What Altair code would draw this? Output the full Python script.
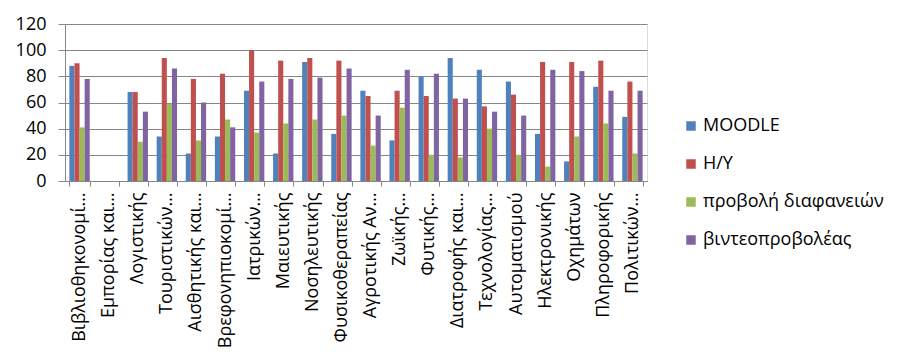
import altair as alt
import pandas as pd

categories = ["Βιβλιοθηκονομί…", "Εμπορίας και…", "Λογιστικής", "Τουριστικών…",
              "Αισθητικής και…", "Βρεφονηπιοκομί…", "Ιατρικών…", "Μαιευτικής",
              "Νοσηλευτικής", "Φυσικοθεραπείας", "Αγροτικής Αν…", "Ζωϊκής…",
              "Φυτικής…", "Διατροφής και…", "Τεχνολογίας…", "Αυτοματισμού",
              "Ηλεκτρονικής", "Οχημάτων", "Πληροφορικής", "Πολιτικών…"]
series = ["MOODLE", "Η/Υ", "προβολή διαφανειών", "βιντεοπροβολέας"]
moodle = [88, 0, 68, 34, 21, 34, 69, 21, 91, 36, 69, 31, 80, 94, 85, 76, 36, 15, 72, 49]
hy = [90, 0, 68, 94, 78, 82, 100, 92, 94, 92, 65, 69, 65, 63, 57, 66, 91, 91, 92, 76]
slides = [41, 0, 30, 59, 31, 47, 37, 44, 47, 50, 27, 56, 20, 18, 40, 20, 11, 34, 44, 21]
projector = [78, 0, 53, 86, 60, 41, 76, 78, 79, 86, 50, 85, 82, 63, 53, 50, 85, 84, 69, 69]
colors = ["#4F81BD", "#C0504D", "#9BBB59", "#8064A2"]
y_ticks = [0, 20, 40, 60, 80, 100, 120]

rows = []
for i, c in enumerate(categories):
    for s, vals in zip(series, [moodle, hy, slides, projector]):
        rows.append({"cat": c, "series": s, "value": vals[i]})
df = pd.DataFrame(rows)

FONT = "Open Sans"
GRID = "#868686"

chart = alt.Chart(df).mark_bar().encode(
    x=alt.X("cat:N", sort=categories, title=None,
            scale=alt.Scale(paddingInner=0.3, paddingOuter=0.15),
            axis=alt.Axis(labelAngle=-90, tickBand="extent", tickSize=5,
                          labelPadding=6, labelFontSize=18, labelFont=FONT,
                          labelColor="#000000", labelLimit=300,
                          domainColor=GRID, tickColor=GRID, grid=False)),
    xOffset=alt.XOffset("series:N", sort=series,
                        scale=alt.Scale(paddingInner=0, paddingOuter=0)),
    y=alt.Y("value:Q", title=None, scale=alt.Scale(domain=[0, 120], nice=False),
            axis=alt.Axis(values=y_ticks, tickSize=7, labelPadding=12,
                          labelFontSize=18, labelFont=FONT, labelColor="#000000",
                          domainColor=GRID, tickColor=GRID, gridColor=GRID)),
    color=alt.Color("series:N", sort=series,
                    scale=alt.Scale(domain=series, range=colors),
                    legend=alt.Legend(title=None, orient="none", legendX=617, legendY=93,
                                      symbolType="square", symbolSize=90,
                                      symbolStrokeWidth=0, labelFontSize=18,
                                      labelFont=FONT, labelColor="#000000",
                                      labelLimit=300,
                                      rowPadding=20, padding=0, labelOffset=3)),
).properties(
    width=582, height=157,
    padding={"left": 57, "top": 16, "right": 247, "bottom": 175},
    autosize=alt.AutoSizeParams(type="none"),
).configure_view(stroke=None).configure(background="white")

chart.save("out.html", embed_options={"renderer": "svg", "actions": False})
